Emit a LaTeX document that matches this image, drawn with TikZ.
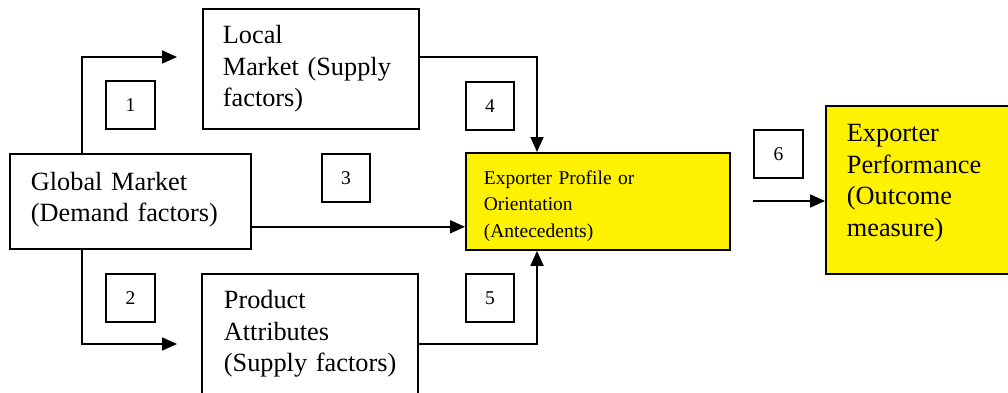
\documentclass[tikz,border=0pt]{standalone}
\usepackage{fontspec}
\setmainfont{Liberation Serif}
\usetikzlibrary{arrows.meta,calc}
\begin{document}
\begin{tikzpicture}[x=1pt,y=-1pt,
  bigtext/.style={font=\fontsize{26.3}{31.5}\selectfont},
  smalltext/.style={font=\fontsize{19.5}{26.5}\selectfont},
  mainbox/.style={draw=black,line width=1.8pt,anchor=north west,inner ysep=0pt,align=left,bigtext},
  numbox/.style={draw=black,line width=1.8pt,anchor=north west,minimum width=48pt,minimum height=48pt,inner sep=0pt,smalltext},
  arr/.style={line width=1.8pt,-{Triangle[length=15pt,width=13pt]}}
]
\useasboundingbox (0,0) rectangle (1008,393);
% main boxes
\node[mainbox,minimum width=216pt,minimum height=120pt,inner xsep=20pt,text width=176pt] (local) at (202,8)
  {Local\\\mbox{Market (Supply}\\factors)};
\node[mainbox,minimum width=241pt,minimum height=95pt,inner xsep=21pt,text width=199pt] (glob) at (9,153)
  {Global Market\\\mbox{(Demand factors)}\\[-22pt]\mbox{}};
\node[mainbox,minimum width=216pt,minimum height=120pt,inner xsep=22pt,text width=172pt] (prod) at (201,273)
  {Product\\Attributes\\\mbox{(Supply factors)}};
\node[mainbox,fill=yellow,minimum width=264pt,minimum height=97pt,inner xsep=18pt,text width=228pt,smalltext] (prof) at (465,152)
  {\mbox{}\\[-4pt]Exporter Profile or\\Orientation\\(Antecedents)};
\node[mainbox,fill=yellow,minimum width=190pt,minimum height=168pt,inner xsep=21pt,text width=148pt] (perf) at (825,105)
  {Exporter\\\mbox{Performance}\\(Outcome\\measure)\\[-12pt]\mbox{}};
% number boxes
\node[numbox,minimum width=49pt] (n1) at (105,80) {1};
\node[numbox,minimum width=49pt] (n2) at (105,273) {2};
\node[numbox] (n3) at (321,153) {3};
\node[numbox] (n4) at (465,81) {4};
\node[numbox] (n5) at (465,273) {5};
\node[numbox,minimum width=49pt] (n6) at (753,129) {6};
% helper coordinates
\coordinate (t1) at (177,57);
\coordinate (t2) at (177,344);
\coordinate (s6) at (753,201);
% connectors
\draw[arr] ($(glob.north west)+(73,0)$) |- (t1);
\draw[arr] ($(glob.south west)+(73,0)$) |- (t2);
\draw[arr] ($(glob.south east)+(0,-23)$) -- ($(prof.south west)+(0,-24)$);
\draw[arr] ($(local.north east)+(0,49)$) -| ($(prof.north west)+(72,0)$);
\draw[arr] ($(prod.north east)+(0,71)$) -| ($(prof.south west)+(72,0)$);
\draw[arr] (s6) -- (s6 -| perf.west);
\end{tikzpicture}
\end{document}
